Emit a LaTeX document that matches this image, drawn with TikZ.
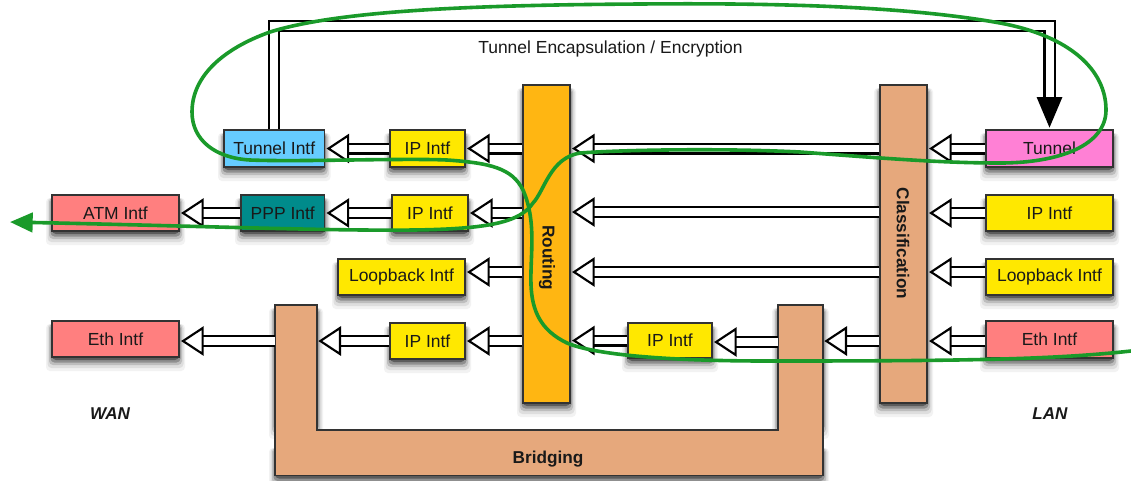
\documentclass[tikz,border=0pt]{standalone}
\usepackage{fontspec}
\setmainfont{Liberation Sans}
\usetikzlibrary{arrows.meta}
\definecolor{cYel}{HTML}{FFE800}
\definecolor{cBlue}{HTML}{66CCFF}
\definecolor{cTeal}{HTML}{008B8B}
\definecolor{cRed}{HTML}{FF7F7F}
\definecolor{cPink}{HTML}{FF80D5}
\definecolor{cOrg}{HTML}{FFB612}
\definecolor{cTan}{HTML}{E6A87C}
\definecolor{cGreen}{HTML}{1A9A2A}
\definecolor{cEdge}{HTML}{333333}
\definecolor{sA}{gray}{0.95}
\definecolor{sB}{gray}{0.87}
\definecolor{sC}{gray}{0.74}
\definecolor{sD}{gray}{0.56}
\definecolor{sE}{gray}{0.36}
\tikzset{
  box/.style={draw=cEdge,line width=1.1pt,inner sep=0pt,font=\fontsize{13.1pt}{15pt}\selectfont,text=black!90},
  bar/.style={draw=cEdge,line width=1.1pt},
  dbl/.style={draw=black,line width=1.6pt,double=white,double distance=5.8pt,
    -{Triangle[fill=white,length=17pt,width=22pt,line width=1.6pt]},shorten >=1pt},
  tube/.style={draw=black,line width=1.6pt,double=white,double distance=6pt,miter limit=10,
    -{Triangle[length=23pt,width=19pt]},shorten >=1.2pt},
  flow/.style={draw=cGreen,line width=2.7pt},
  caption/.style={font=\fontsize{13.1pt}{15pt}\selectfont,text=black!90},
  heading/.style={font=\bfseries\fontsize{12.9pt}{15pt}\selectfont,text=black!90},
  sideword/.style={font=\bfseries\itshape\fontsize{12.8pt}{15pt}\selectfont,text=black!90}
}
% one grey layer of a soft shadow: colour, sideways spread, downward reach, then x1 y1 x2 y2
\newcommand{\shlayer}[7]{\fill[#1,rounded corners=3pt] ({#4-#2},{#5+3}) rectangle ({#6+#2},{#7+#3});}
\newcommand{\softrect}[4]{%
  \shlayer{sA}{6}{14}{#1}{#2}{#3}{#4}
  \shlayer{sB}{4.5}{11}{#1}{#2}{#3}{#4}
  \shlayer{sC}{3}{8}{#1}{#2}{#3}{#4}
  \shlayer{sD}{1.5}{5.5}{#1}{#2}{#3}{#4}
  \shlayer{sE}{0}{3}{#1}{#2}{#3}{#4}}
\newcommand{\bx}[7]{%
  \softrect{#2}{#3}{#4}{#5}
  \node[box,fill=#6,minimum width={(#4-#2)*0.75pt},minimum height={(#5-#3)*0.75pt}] (#1) at ({(#2+#4)/2},{(#3+#5)/2}) {#7};}
\begin{document}
\begin{tikzpicture}[x=0.75pt,y=-0.75pt]
\useasboundingbox[fill=white] (0,0) rectangle (1131,480);
% vertical blocks
\bx{routing}{523}{85}{570}{403}{cOrg}{}
\bx{classif}{880}{85}{927}{403}{cTan}{}
\node[heading,rotate=-90] (routinglabel) at (547,258) {Routing};
\node[heading,rotate=-90] (classiflabel) at (903,243.5) {Classification};
% bridging
\softrect{275}{305}{317}{425}
\softrect{778}{305}{823}{425}
\softrect{275}{445}{823}{475.5}
\draw[bar,fill=cTan] (275,305) -- (317,305) -- (317,430) -- (778,430) -- (778,305) -- (823,305) -- (823,475.5) -- (275,475.5) -- cycle;
\node[heading] (bridging) at (548,459.5) {Bridging};
\coordinate (brLo) at (275,341);
\coordinate (brLi) at (317,341);
\coordinate (brRi) at (778,342);
\coordinate (brRo) at (823,342);
% boxes
\bx{tunI}{224}{130}{324.5}{167}{cBlue}{Tunnel Intf}
\bx{ipA}{390}{130}{465}{167}{cYel}{IP Intf}
\bx{ppp}{241}{195}{324.5}{231}{cTeal}{PPP Intf}
\bx{ipB}{392}{195}{468}{231}{cYel}{IP Intf}
\bx{atm}{52}{195}{179}{231}{cRed}{ATM Intf}
\bx{loL}{338}{259}{465}{295}{cYel}{Loopback Intf}
\bx{ethL}{52}{321}{179}{357}{cRed}{Eth Intf}
\bx{ipC}{390}{323}{465}{359}{cYel}{IP Intf}
\bx{ipD}{628}{323}{712}{358}{cYel}{IP Intf}
\bx{tun}{986}{130}{1113}{167}{cPink}{Tunnel}
\bx{ipR}{986}{195}{1113}{231}{cYel}{IP Intf}
\bx{loR}{986}{259}{1113}{295}{cYel}{Loopback Intf}
\bx{ethR}{986}{321}{1113}{358}{cRed}{Eth Intf}
% row references
\coordinate (rowA) at (0,148.5);
\coordinate (rowB) at (0,212);
\coordinate (rowC) at (0,272);
\coordinate (rowD) at (0,341);
% left-hand rows
\draw[dbl] (ipA.west) -- (tunI.east);
\draw[dbl] (routing.west |- rowA) -- (ipA.east);
\draw[dbl] (ppp.west) -- (atm.east);
\draw[dbl] (ipB.west) -- (ppp.east);
\draw[dbl] (routing.west |- ipB.east) -- (ipB.east);
\draw[dbl] (routing.west |- rowC) -- (loL.east |- rowC);
\draw[dbl] (brLo) -- (ethL.east |- brLo);
\draw[dbl] (ipC.west) -- (brLi);
\draw[dbl] (routing.west |- ipC.east) -- (ipC.east);
% right-hand rows
\draw[dbl] (classif.west |- rowA) -- (routing.east |- rowA);
\draw[dbl] (classif.west |- rowB) -- (routing.east |- rowB);
\draw[dbl] (classif.west |- rowC) -- (routing.east |- rowC);
\draw[dbl] (ipD.west) -- (routing.east |- ipD.west);
\draw[dbl] (brRi) -- (ipD.east |- brRi);
\draw[dbl] (classif.west |- rowD) -- (brRo |- rowD);
\draw[dbl] (tun.west) -- (classif.east |- tun.west);
\draw[dbl] (ipR.west) -- (classif.east |- ipR.west);
\draw[dbl] (loR.west |- rowC) -- (classif.east |- rowC);
\draw[dbl] (ethR.west |- rowD) -- (classif.east |- rowD);
% tunnel pipe
\coordinate (pipeTop) at (0,26);
\draw[tube] (tunI.north) |- (pipeTop -| tun.north) -- (tun.north);
% texts
\node[caption] (tunnelcap) at (610.5,49) {Tunnel Encapsulation / Encryption};
\node[sideword] (wan) at (110,414) {WAN};
\node[sideword] (lan) at (1050,414) {LAN};
% flow
\draw[flow,-{Triangle[length=17pt,width=14.5pt]}] (1131,351)
 .. controls (1050,360) and (950,361) .. (767,361)
 .. controls (690,361) and (600,357) .. (567,343)
 .. controls (540,330) and (532,310) .. (531,285)
 .. controls (530,255) and (537,222) .. (523,190)
 .. controls (512,168) and (490,163) .. (447,160)
 .. controls (400,158) and (300,162) .. (250,160)
 .. controls (215,158) and (192,140) .. (192,112)
 .. controls (192,75) and (225,48) .. (270,32)
 .. controls (340,10) and (480,5) .. (640,4)
 .. controls (760,3) and (900,5) .. (1000,23)
 .. controls (1070,36) and (1106,70) .. (1106,110)
 .. controls (1106,145) and (1060,163) .. (1000,163)
 .. controls (940,163) and (880,158) .. (800,152)
 .. controls (720,148) and (620,150) .. (580,153)
 .. controls (550,158) and (545,190) .. (533,203)
 .. controls (520,222) and (490,229) .. (413,230)
 .. controls (330,231) and (200,226) .. (10,222);
\end{tikzpicture}
\end{document}
